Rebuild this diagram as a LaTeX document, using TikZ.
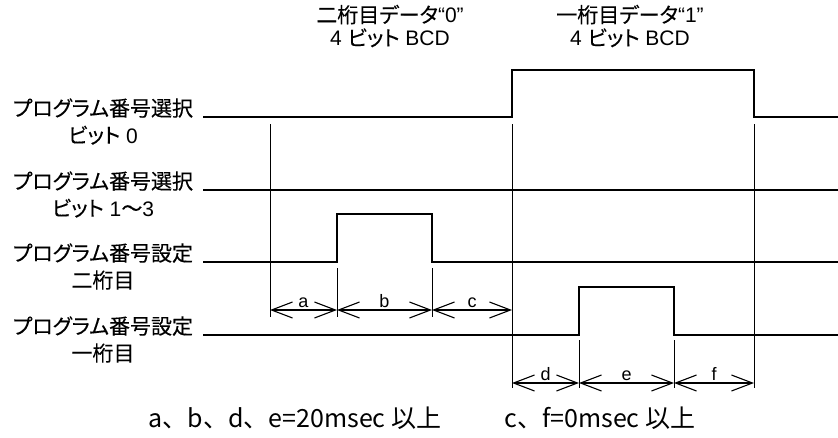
\documentclass[tikz,border=0pt]{standalone}
\usepackage{fontspec}
\setmainfont{Liberation Sans}
\newfontfamily\jp[RawFeature={+palt},FakeBold=0.25]{Noto Sans CJK JP}
\newfontfamily\jpw{Noto Sans CJK JP}
\usepackage{tikz}
\usetikzlibrary{arrows.meta}

\begin{document}
\begin{tikzpicture}[x=1pt,y=-1pt,line join=miter,
  >={Straight Barb[length=21pt,width=16pt]},
  sig/.style={line width=2.8pt},
  guide/.style={line width=1pt},
  dim/.style={<->,line width=1.1pt},
  rowlbl/.style={font=\fontsize{21}{27}\selectfont,align=center,inner sep=0pt},
  toplbl/.style={font=\fontsize{21}{23}\selectfont,align=center,inner sep=0pt},
  dimlbl/.style={font=\fontsize{18}{18}\selectfont,anchor=base,yshift=3pt,inner sep=0pt},
  notelbl/.style={font=\jpw\fontsize{25}{25}\selectfont,inner sep=0pt}]
\useasboundingbox (0,0) rectangle (838,437);
% data headings
\node[toplbl] (hi2) at (390,26) {{\jp 二桁目データ}“0”\\4 {\jp ビット} BCD};
\node[toplbl] (hi1) at (630,26) {{\jp 一桁目データ}“1”\\4 {\jp ビット} BCD};
% row labels
\node[rowlbl] (sel0) at (103,121.5) {{\jp プログラム番号選択}\\{\jp ビット} 0};
\node[rowlbl] (sel1) at (103,194.5) {{\jp プログラム番号選択}\\{\jp ビット} 1{\jp 〜}3};
\node[rowlbl] (set2) at (103,266.5) {{\jp プログラム番号設定}\\{\jp 二桁目}};
\node[rowlbl] (set1) at (103,339.5) {{\jp プログラム番号設定}\\{\jp 一桁目}};
% signals
\draw[sig] (203,117) -- (512,117) -- (512,70) -- (754,70) -- (754,117) -- (838,117);
\draw[sig] (203,190) -- (838,190);
\draw[sig] (203,262) -- (337,262) -- (337,214) -- (432,214) -- (432,262) -- (838,262);
\draw[sig] (203,335) -- (579,335) -- (579,287) -- (674,287) -- (674,335) -- (838,335);
% guide lines
\foreach \x/\ya/\yb in {270/124/317,337/268/317,432/268/317,512/124/388,754/124/388,579/340/388,674/340/388}
  \draw[guide] (\x,\ya) -- (\x,\yb);
% timing arrows
\foreach \n/\x in {a/270,b/337,c/432,d/512} \coordinate (p\n) at (\x,310);
\foreach \n/\x in {d/512,e/579,f/674,g/754} \coordinate (q\n) at (\x,383);
\draw[dim] (pa) -- node[dimlbl] {a} (pb);
\draw[dim] (pb) -- node[dimlbl] {b} (pc);
\draw[dim] (pc) -- node[dimlbl] {c} (pd);
\draw[dim] (qd) -- node[dimlbl] {d} (qe);
\draw[dim] (qe) -- node[dimlbl] {e} (qf);
\draw[dim] (qf) -- node[dimlbl] {f} (qg);
% notes
\node[notelbl] (n1) at (295,418) {a、b、d、e=20msec 以上};
\node[notelbl] (n2) at (600,418) {c、f=0msec 以上};
\end{tikzpicture}
\end{document}
